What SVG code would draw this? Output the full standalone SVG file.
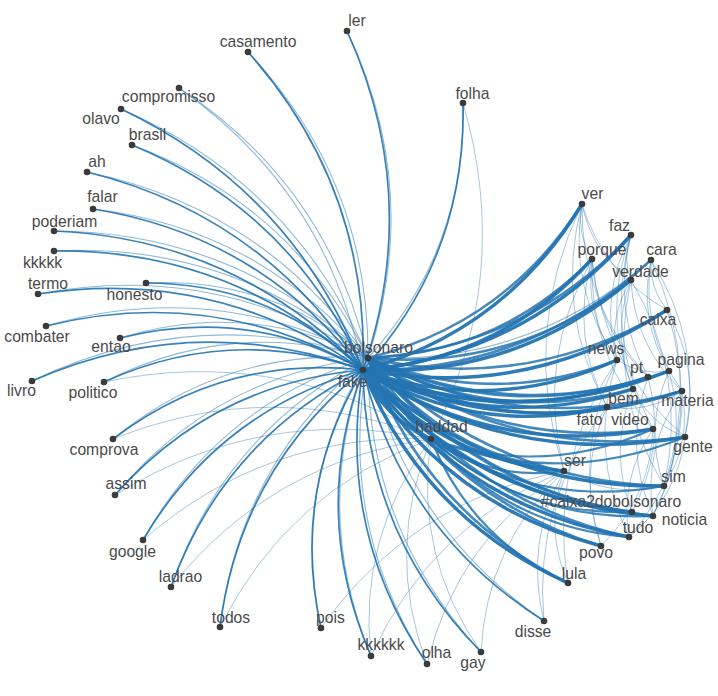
<svg xmlns="http://www.w3.org/2000/svg" width="718" height="696" viewBox="0 0 718 696">
<style>
.e{fill:none;stroke:#2474b2;stroke-linecap:round}
.l{stroke-width:1.7;opacity:.9}
.lb{stroke-width:1.1;opacity:.5}
.r{stroke-width:3.4;opacity:.95}
.rb{stroke-width:2.6;opacity:.85}
.h{stroke-width:2.2;opacity:.85}
.t{stroke-width:1;opacity:.4}
.n circle{fill:#3b3b3b}
.n text{font-family:"Liberation Sans",Arial,sans-serif;font-size:15.7px;fill:#4a4a4a;text-anchor:middle}
</style>
<rect width="718" height="696" fill="#fff"/>
<g id="edges" class="e">
<path class="l" d="M363,370Q422.8,197.3 347,31"/><path class="lb" d="M368,358Q422.9,190.3 347,31"/>
<path class="l" d="M363,370Q369.1,188 248,52"/><path class="lb" d="M368,358Q369.2,181 248,52"/>
<path class="lb" d="M363,370Q327.4,192.2 179,88"/><path class="lb" d="M368,358Q327.5,185.2 179,88"/>
<path class="l" d="M363,370Q294.2,191.1 121,109"/><path class="lb" d="M368,358Q294.3,184.1 121,109"/>
<path class="l" d="M363,370Q292.5,211.3 132,145"/><path class="lb" d="M368,358Q292.6,204.3 132,145"/>
<path class="l" d="M363,370Q264.6,215.8 87,172"/><path class="lb" d="M368,358Q264.7,208.8 87,172"/>
<path class="l" d="M363,370Q260.2,235.5 93,209"/><path class="lb" d="M368,358Q260.3,228.5 93,209"/>
<path class="l" d="M363,370Q236.3,238.7 54,231"/><path class="lb" d="M368,358Q236.4,231.7 54,231"/>
<path class="l" d="M363,370Q232.3,248.7 54,251"/><path class="lb" d="M368,358Q232.4,241.7 54,251"/>
<path class="l" d="M363,370Q215.7,267 38,294"/><path class="lb" d="M368,358Q215.8,260 38,294"/>
<path class="l" d="M363,370Q271.9,283.1 146,283"/><path class="lb" d="M368,358Q272,276.1 146,283"/>
<path class="l" d="M363,370Q213.3,284.6 46,326"/><path class="lb" d="M368,358Q213.4,277.6 46,326"/>
<path class="l" d="M363,370Q247.9,305.4 120,338"/><path class="lb" d="M368,358Q248,298.4 120,338"/>
<path class="l" d="M363,370Q195.3,309.3 32,381"/><path class="lb" d="M368,358Q195.4,302.3 32,381"/>
<path class="l" d="M363,370Q231.1,324.2 104,382"/><path class="lb" d="M368,358Q231.2,317.2 104,382"/>
<path class="l" d="M363,370Q224.2,354.5 113,439"/><path class="lb" d="M368,358Q224.3,347.5 113,439"/>
<path class="l" d="M363,370Q214,382.9 115,495"/><path class="lb" d="M368,358Q214.1,375.9 115,495"/>
<path class="l" d="M363,370Q219,411 143,540"/><path class="lb" d="M368,358Q219.1,404 143,540"/>
<path class="l" d="M363,370Q223.6,440.1 171,587"/><path class="lb" d="M368,358Q223.7,433.1 171,587"/>
<path class="l" d="M363,370Q240.1,469.9 220,627"/><path class="lb" d="M368,358Q240.2,462.9 220,627"/>
<path class="l" d="M363,370Q290.4,490.6 321,628"/><path class="lb" d="M368,358Q290.5,483.6 321,628"/>
<path class="l" d="M363,370Q309.8,514.6 371,656"/><path class="lb" d="M368,358Q309.9,507.6 371,656"/>
<path class="l" d="M363,370Q336.2,529.8 427,664"/><path class="lb" d="M368,358Q336.3,522.8 427,664"/>
<path class="l" d="M363,370Q365.6,534.6 481,652"/><path class="lb" d="M368,358Q365.7,527.6 481,652"/>
<path class="l" d="M363,370Q403.3,531.7 544,621"/><path class="lb" d="M368,358Q403.4,524.7 544,621"/>
<path class="l" d="M363,370Q466.4,256.5 463,103"/><path class="lb" d="M368,358Q466.5,249.5 463,103"/>
<path class="r" d="M363,370Q422.9,517.5 568,583"/><path class="rb" d="M368,358Q423,510.5 568,583"/>
<path class="r" d="M363,370Q505.7,330.8 582,204"/><path class="rb" d="M368,358Q505.8,323.8 582,204"/>
<path class="r" d="M363,370Q524,356.1 631,235"/><path class="rb" d="M368,358Q524.1,349.1 631,235"/>
<path class="r" d="M363,370Q499.7,360.3 592,259"/><path class="rb" d="M368,358Q499.8,353.3 592,259"/>
<path class="rb" d="M363,370Q529,372.6 651,260"/><path class="lb" d="M368,358Q529.1,365.6 651,260"/>
<path class="r" d="M363,370Q515,378.6 631,280"/><path class="rb" d="M368,358Q515.1,371.6 631,280"/>
<path class="r" d="M363,370Q527,400.8 667,310"/><path class="rb" d="M368,358Q527.1,393.8 667,310"/>
<path class="r" d="M363,370Q492,415.8 617,360"/><path class="rb" d="M368,358Q492.1,408.8 617,360"/>
<path class="r" d="M363,370Q504.1,430.5 648,377"/><path class="rb" d="M368,358Q504.2,423.5 648,377"/>
<path class="r" d="M363,370Q515.8,431.7 669,371"/><path class="rb" d="M368,358Q515.9,424.7 669,371"/>
<path class="r" d="M363,370Q494.2,433.5 633,389"/><path class="rb" d="M368,358Q494.3,426.5 633,389"/>
<path class="r" d="M363,370Q518.3,444.3 682,391"/><path class="rb" d="M368,358Q518.4,437.3 682,391"/>
<path class="r" d="M363,370Q477.6,437.3 607,407"/><path class="rb" d="M368,358Q477.7,430.3 607,407"/>
<path class="r" d="M363,370Q496.2,457.5 653,429"/><path class="rb" d="M368,358Q496.3,450.5 653,429"/>
<path class="r" d="M363,370Q510.6,467.9 685,437"/><path class="rb" d="M368,358Q510.7,460.9 685,437"/>
<path class="r" d="M363,370Q443.3,460.7 564,471"/><path class="rb" d="M368,358Q443.4,453.7 564,471"/>
<path class="r" d="M363,370Q490.3,488.2 664,486"/><path class="rb" d="M368,358Q490.4,481.2 664,486"/>
<path class="r" d="M363,370Q469.1,494.8 632,512"/><path class="rb" d="M368,358Q469.2,487.8 632,512"/>
<path class="r" d="M363,370Q478.8,501 653,516"/><path class="rb" d="M368,358Q478.9,494 653,516"/>
<path class="r" d="M363,370Q462.6,506.7 629,537"/><path class="rb" d="M368,358Q462.7,499.7 629,537"/>
<path class="r" d="M363,370Q446.8,505.6 601,546"/><path class="rb" d="M368,358Q446.9,498.6 601,546"/>
<path class="r" d="M363,370Q383.2,418.1 431,439"/><path class="rb" d="M368,358Q383.3,411.1 431,439"/>
<path class="h" d="M431,439Q491.1,481.6 564,471"/>
<path class="h" d="M431,439Q538.1,509.1 664,486"/>
<path class="h" d="M431,439Q516.9,515.7 632,512"/>
<path class="h" d="M431,439Q526.6,521.9 653,516"/>
<path class="h" d="M431,439Q510.4,527.6 629,537"/>
<path class="h" d="M431,439Q558.4,488.8 685,437"/>
<path class="h" d="M431,439Q470.7,538.4 568,583"/>
<path class="h" d="M431,439Q544,478.4 653,429"/>
<path class="t" d="M431,439Q514.2,277.4 463,103"/>
<path class="t" d="M431,439Q278.9,345.1 104,382"/>
<path class="t" d="M431,439Q272,375.4 113,439"/>
<path class="t" d="M431,439Q261.8,403.8 115,495"/>
<path class="t" d="M431,439Q266.8,431.9 143,540"/>
<path class="t" d="M431,439Q271.4,461 171,587"/>
<path class="t" d="M431,439Q287.9,490.8 220,627"/>
<path class="t" d="M564,471Q411.1,500.9 321,628"/>
<path class="t" d="M564,471Q430.5,524.9 371,656"/>
<path class="t" d="M431,439Q384,550.7 427,664"/>
<path class="t" d="M431,439Q413.4,555.5 481,652"/>
<path class="t" d="M431,439Q357.6,535.5 371,656"/>
<path class="t" d="M564,471Q456.9,540.1 427,664"/>
<path class="t" d="M564,471Q486.3,544.9 481,652"/>
<path class="t" d="M564,471Q524,542 544,621"/>
<path class="t" d="M607,407Q532.7,501.4 544,621"/>
<path class="t" d="M617,360Q547.9,461.7 568,583"/>
<path class="t" d="M592,259Q535.6,359.4 564,471"/>
<path class="t" d="M582,204Q519.6,333.9 564,471"/>
<path class="t" d="M582,204Q553.9,310.5 607,407"/>
<path class="t" d="M582,204Q576,233.5 592,259"/>
<path class="t" d="M582,204Q591.3,251.8 631,280"/>
<path class="t" d="M582,204Q603.3,274 667,310"/>
<path class="t" d="M582,204Q568.3,289 617,360"/>
<path class="t" d="M582,204Q580.4,303.7 648,377"/>
<path class="t" d="M631,235Q622,257.5 631,280"/>
<path class="t" d="M631,235Q599,294.7 617,360"/>
<path class="t" d="M631,235Q601.2,312.4 633,389"/>
<path class="t" d="M631,235Q603.2,336.4 653,429"/>
<path class="t" d="M631,235Q611.1,309.4 648,377"/>
<path class="t" d="M592,259Q584.3,314.5 617,360"/>
<path class="t" d="M592,259Q569.9,336 607,407"/>
<path class="t" d="M592,259Q588.5,356.2 653,429"/>
<path class="t" d="M592,259Q602.9,366.6 685,437"/>
<path class="t" d="M592,259Q596.4,329.2 648,377"/>
<path class="t" d="M631,280Q608,317.2 617,360"/>
<path class="t" d="M631,280Q610.2,334.9 633,389"/>
<path class="t" d="M631,280Q634.3,345.7 682,391"/>
<path class="t" d="M631,280Q606.3,389.6 664,486"/>
<path class="t" d="M651,260Q649,288.2 667,310"/>
<path class="t" d="M651,260Q637.8,319.1 669,371"/>
<path class="t" d="M651,260Q640.3,331.7 682,391"/>
<path class="t" d="M685,437Q701.4,369.9 667,310"/>
<path class="t" d="M664,486Q702.7,370.4 651,260"/>
<path class="t" d="M653,516Q701.2,415.8 667,310"/>
<path class="t" d="M685,437Q703.4,341.7 651,260"/>
<path class="t" d="M664,486Q692,442.1 682,391"/>
<path class="t" d="M653,516Q690,446.7 669,371"/>
<path class="t" d="M629,537Q684.7,474.6 682,391"/>
<path class="t" d="M664,486Q688.7,376.4 631,280"/>
<path class="t" d="M629,537Q677,498.2 685,437"/>
<path class="t" d="M601,546Q650.4,497.9 653,429"/>
<path class="t" d="M632,512Q667,447.7 648,377"/>
<path class="t" d="M617,360Q587.6,450.9 629,537"/>
<path class="t" d="M633,389Q607.9,450.3 632,512"/>
<path class="t" d="M607,407Q576.2,475.3 601,546"/>
<path class="t" d="M617,360Q571.8,449.8 601,546"/>
<path class="t" d="M564,471Q543.6,527.8 568,583"/>
<path class="t" d="M648,377Q622.7,447.5 653,516"/>
<path class="t" d="M653,429Q619.4,478.2 629,537"/>
<path class="t" d="M682,391Q642.5,447.7 653,516"/>
<path class="t" d="M669,371Q643.5,427.5 664,486"/>
<path class="t" d="M617,360Q640.8,375.9 669,371"/>
<path class="t" d="M633,389Q649.4,423.4 685,437"/>
<path class="t" d="M607,407Q647.7,414 682,391"/>
<path class="t" d="M564,471Q611,498.5 664,486"/>
</g>
<g id="n-ler" class="n"><circle cx="347" cy="31" r="3.3"/><text x="357" y="26">ler</text></g>
<g id="n-casamento" class="n"><circle cx="248" cy="52" r="3.3"/><text x="258" y="47">casamento</text></g>
<g id="n-compromisso" class="n"><circle cx="179" cy="88" r="3.3"/><text x="168.5" y="102">compromisso</text></g>
<g id="n-olavo" class="n"><circle cx="121" cy="109" r="3.3"/><text x="101" y="124">olavo</text></g>
<g id="n-brasil" class="n"><circle cx="132" cy="145" r="3.3"/><text x="147.5" y="140">brasil</text></g>
<g id="n-ah" class="n"><circle cx="87" cy="172" r="3.3"/><text x="97" y="167">ah</text></g>
<g id="n-falar" class="n"><circle cx="93" cy="209" r="3.3"/><text x="102.5" y="202">falar</text></g>
<g id="n-poderiam" class="n"><circle cx="54" cy="231" r="3.3"/><text x="64.5" y="227">poderiam</text></g>
<g id="n-kkkkk" class="n"><circle cx="54" cy="251" r="3.3"/><text x="42.5" y="268">kkkkk</text></g>
<g id="n-termo" class="n"><circle cx="38" cy="294" r="3.3"/><text x="48" y="289">termo</text></g>
<g id="n-honesto" class="n"><circle cx="146" cy="283" r="3.3"/><text x="134.5" y="300">honesto</text></g>
<g id="n-combater" class="n"><circle cx="46" cy="326" r="3.3"/><text x="37" y="342">combater</text></g>
<g id="n-entao" class="n"><circle cx="120" cy="338" r="3.3"/><text x="111" y="352">entao</text></g>
<g id="n-livro" class="n"><circle cx="32" cy="381" r="3.3"/><text x="21.5" y="396">livro</text></g>
<g id="n-politico" class="n"><circle cx="104" cy="382" r="3.3"/><text x="93" y="398">politico</text></g>
<g id="n-comprova" class="n"><circle cx="113" cy="439" r="3.3"/><text x="104" y="455">comprova</text></g>
<g id="n-assim" class="n"><circle cx="115" cy="495" r="3.3"/><text x="126" y="489">assim</text></g>
<g id="n-google" class="n"><circle cx="143" cy="540" r="3.3"/><text x="132.5" y="557">google</text></g>
<g id="n-ladrao" class="n"><circle cx="171" cy="587" r="3.3"/><text x="180.5" y="582">ladrao</text></g>
<g id="n-todos" class="n"><circle cx="220" cy="627" r="3.3"/><text x="231" y="623">todos</text></g>
<g id="n-pois" class="n"><circle cx="321" cy="628" r="3.3"/><text x="330.5" y="623">pois</text></g>
<g id="n-kkkkkk" class="n"><circle cx="371" cy="656" r="3.3"/><text x="381" y="650">kkkkkk</text></g>
<g id="n-olha" class="n"><circle cx="427" cy="664" r="3.3"/><text x="436.5" y="658">olha</text></g>
<g id="n-gay" class="n"><circle cx="481" cy="652" r="3.3"/><text x="473" y="668">gay</text></g>
<g id="n-disse" class="n"><circle cx="544" cy="621" r="3.3"/><text x="533" y="637">disse</text></g>
<g id="n-lula" class="n"><circle cx="568" cy="583" r="3.3"/><text x="574" y="579">lula</text></g>
<g id="n-folha" class="n"><circle cx="463" cy="103" r="3.3"/><text x="472.5" y="99">folha</text></g>
<g id="n-ver" class="n"><circle cx="582" cy="204" r="3.3"/><text x="592.5" y="199">ver</text></g>
<g id="n-faz" class="n"><circle cx="631" cy="235" r="3.3"/><text x="619.5" y="231">faz</text></g>
<g id="n-porque" class="n"><circle cx="592" cy="259" r="3.3"/><text x="602" y="255">porque</text></g>
<g id="n-cara" class="n"><circle cx="651" cy="260" r="3.3"/><text x="661.5" y="255">cara</text></g>
<g id="n-verdade" class="n"><circle cx="631" cy="280" r="3.3"/><text x="640.5" y="277">verdade</text></g>
<g id="n-caixa" class="n"><circle cx="667" cy="310" r="3.3"/><text x="658" y="325">caixa</text></g>
<g id="n-news" class="n"><circle cx="617" cy="360" r="3.3"/><text x="606" y="354">news</text></g>
<g id="n-pt" class="n"><circle cx="648" cy="377" r="3.3"/><text x="636.5" y="373">pt</text></g>
<g id="n-pagina" class="n"><circle cx="669" cy="371" r="3.3"/><text x="681" y="365">pagina</text></g>
<g id="n-bem" class="n"><circle cx="633" cy="389" r="3.3"/><text x="623.5" y="404">bem</text></g>
<g id="n-materia" class="n"><circle cx="682" cy="391" r="3.3"/><text x="687.5" y="406">materia</text></g>
<g id="n-fato" class="n"><circle cx="607" cy="407" r="3.3"/><text x="589.5" y="425">fato</text></g>
<g id="n-video" class="n"><circle cx="653" cy="429" r="3.3"/><text x="630" y="425">video</text></g>
<g id="n-gente" class="n"><circle cx="685" cy="437" r="3.3"/><text x="693" y="452">gente</text></g>
<g id="n-ser" class="n"><circle cx="564" cy="471" r="3.3"/><text x="575" y="466">ser</text></g>
<g id="n-sim" class="n"><circle cx="664" cy="486" r="3.3"/><text x="673.5" y="482">sim</text></g>
<g id="n-caixa2dobolsonaro" class="n"><circle cx="632" cy="512" r="3.3"/><text x="611" y="507">#caixa2dobolsonaro</text></g>
<g id="n-noticia" class="n"><circle cx="653" cy="516" r="3.3"/><text x="684.5" y="525">noticia</text></g>
<g id="n-tudo" class="n"><circle cx="629" cy="537" r="3.3"/><text x="638" y="533">tudo</text></g>
<g id="n-povo" class="n"><circle cx="601" cy="546" r="3.3"/><text x="596" y="558">povo</text></g>
<g id="n-haddad" class="n"><circle cx="431" cy="439" r="3.3"/><text x="441.5" y="432">haddad</text></g>
<g id="n-bolsonaro" class="n"><circle cx="368" cy="358" r="3.3"/><text x="378.5" y="353">bolsonaro</text></g>
<g id="n-fake" class="n"><circle cx="363" cy="370" r="3.3"/><text x="352.5" y="387">fake</text></g>
</svg>
